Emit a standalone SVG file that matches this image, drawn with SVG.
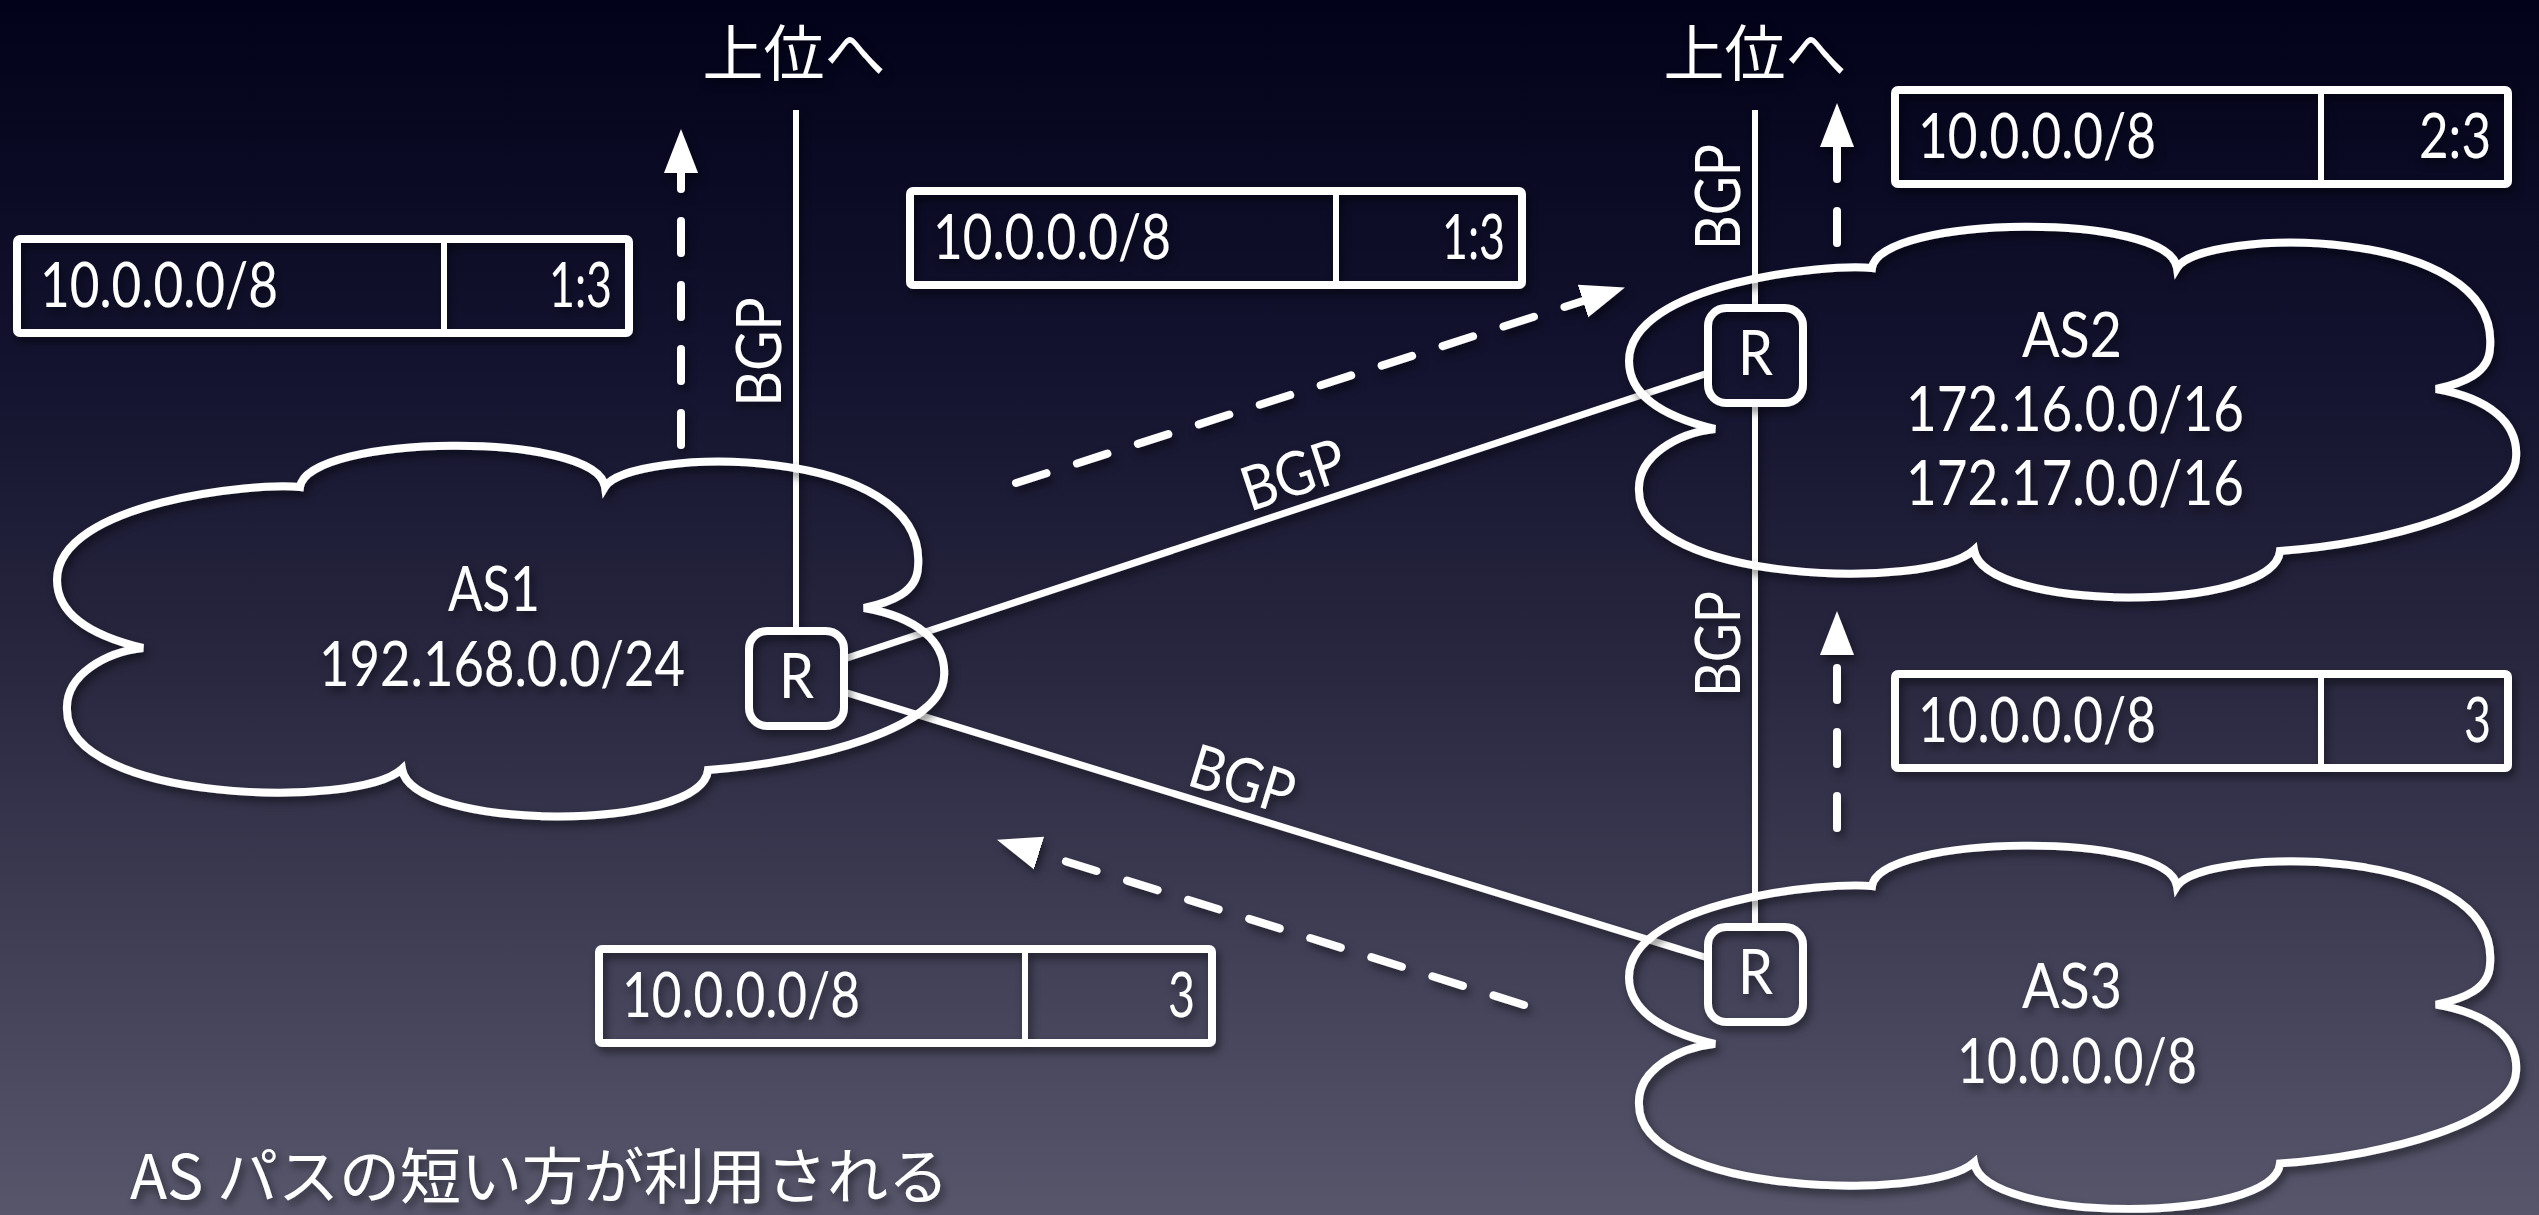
<svg xmlns="http://www.w3.org/2000/svg" width="2539" height="1215" viewBox="0 0 2539 1215">
  <defs>
    <linearGradient id="bg" x1="0" y1="0" x2="0" y2="1">
      <stop offset="0" stop-color="#02021a"/>
      <stop offset="0.3" stop-color="#13132f"/>
      <stop offset="0.55" stop-color="#29273f"/>
      <stop offset="0.8" stop-color="#434158"/>
      <stop offset="1" stop-color="#57566b"/>
    </linearGradient>
    <filter id="sh" filterUnits="userSpaceOnUse" x="0" y="0" width="2539" height="1215">
      <feDropShadow dx="3" dy="5" stdDeviation="4" flood-color="#000" flood-opacity="0.5"/>
    </filter>
    <marker id="ah" markerUnits="userSpaceOnUse" viewBox="0 -20 50 40" markerWidth="50" markerHeight="40" refX="0" refY="0" orient="auto">
      <path d="M0,-17 L44,0 L0,17 Z" fill="#fff"/>
    </marker>
    <path id="cloud" d="M243,45 C250,-8 540,-12 548,45 C572,5 872,0 861,125 C860,150 835,160 807,166 C860,175 890,200 887,235 C884,285 760,320 651,328 C645,390 355,390 345,327 C300,368 10,360 10,268 C8,232 50,210 86,206 C40,195 0,175 0,138 C0,60 200,40 243,45 Z"/>
  </defs>
  <style>
    .cl { fill: none; stroke: #fff; stroke-width: 8; stroke-linejoin: miter; }
    .rt { fill: none; stroke: #fff; stroke-width: 8; }
    .tb { fill: none; stroke: #fff; stroke-width: 8; }
    .dv { stroke: #fff; stroke-width: 6; }
    .vl { stroke: #fff; stroke-width: 6; fill: none; }
    .bl { stroke: #fff; stroke-width: 7; fill: none; }
    .da { stroke: #fff; stroke-width: 8; fill: none; stroke-dasharray: 32 32; stroke-linecap: round; marker-end: url(#ah); }
    text { fill: #fff; font-family: Lato, "Liberation Sans", sans-serif; font-size: 61px; }
    .jp { font-family: "Noto Sans CJK JP", sans-serif; }
    .mid { text-anchor: middle; }
    .end { text-anchor: end; }
  </style>

  <rect x="0" y="0" width="2539" height="1215" fill="url(#bg)"/>

  <g id="connectors" filter="url(#sh)">
    <line class="vl" x1="796" y1="110" x2="796" y2="631"/>
    <line class="vl" x1="1755" y1="110" x2="1755" y2="308"/>
    <line class="vl" x1="1755" y1="403" x2="1755" y2="927"/>
    <line class="bl" x1="844" y1="659" x2="1708" y2="373"/>
    <line class="bl" x1="844" y1="692" x2="1708" y2="958"/>
    <line class="da" x1="681" y1="445" x2="681" y2="173"/>
    <line class="da" x1="1837" y1="243" x2="1837" y2="147"/>
    <line class="da" x1="1837" y1="828" x2="1837" y2="655"/>
    <line class="da" x1="1016" y1="483" x2="1583" y2="301"/>
    <line class="da" x1="1524" y1="1005" x2="1039" y2="853"/>
    <text x="781" y="352" class="mid" transform="rotate(-90 781 352)" textLength="109" lengthAdjust="spacingAndGlyphs">BGP</text>
    <text x="1740" y="197" class="mid" transform="rotate(-90 1740 197)" textLength="106" lengthAdjust="spacingAndGlyphs">BGP</text>
    <text x="1740" y="644" class="mid" transform="rotate(-90 1740 644)" textLength="106" lengthAdjust="spacingAndGlyphs">BGP</text>
    <text x="1300" y="495" class="mid" transform="rotate(-18.3 1300 495)" textLength="106" lengthAdjust="spacingAndGlyphs">BGP</text>
    <text x="1236" y="800" class="mid" transform="rotate(17.1 1236 800)" textLength="106" lengthAdjust="spacingAndGlyphs">BGP</text>
    <text x="794" y="76" class="jp mid" font-size="66">上位へ</text>
    <text x="1755" y="76" class="jp mid" font-size="66">上位へ</text>
  </g>

  <g id="as1" filter="url(#sh)">
    <use href="#cloud" class="cl" transform="translate(57,442)"/>
    <text x="494" y="611" class="mid" textLength="92" lengthAdjust="spacingAndGlyphs">AS1</text>
    <text x="502" y="686" class="mid" textLength="366" lengthAdjust="spacingAndGlyphs">192.168.0.0/24</text>
  </g>
  <g id="as2" filter="url(#sh)">
    <use href="#cloud" class="cl" transform="translate(1629,223)"/>
    <text x="2072" y="357" class="mid" textLength="100" lengthAdjust="spacingAndGlyphs">AS2</text>
    <text x="2075" y="431" class="mid" textLength="338" lengthAdjust="spacingAndGlyphs">172.16.0.0/16</text>
    <text x="2075" y="505" class="mid" textLength="338" lengthAdjust="spacingAndGlyphs">172.17.0.0/16</text>
  </g>
  <g id="as3" filter="url(#sh)">
    <use href="#cloud" class="cl" transform="translate(1629,842) scale(1,0.98)"/>
    <text x="2072" y="1008" class="mid" textLength="100" lengthAdjust="spacingAndGlyphs">AS3</text>
    <text x="2077" y="1083" class="mid" textLength="240" lengthAdjust="spacingAndGlyphs">10.0.0.0/8</text>
  </g>

  <g id="r1" filter="url(#sh)">
    <rect class="rt" x="749" y="631" width="95" height="95" rx="18"/>
    <text x="796.5" y="698" class="mid" font-size="54" textLength="35" lengthAdjust="spacingAndGlyphs">R</text>
  </g>
  <g id="r2" filter="url(#sh)">
    <rect class="rt" x="1708" y="308" width="95" height="95" rx="18"/>
    <text x="1755.5" y="375" class="mid" font-size="54" textLength="35" lengthAdjust="spacingAndGlyphs">R</text>
  </g>
  <g id="r3" filter="url(#sh)">
    <rect class="rt" x="1708" y="927" width="95" height="95" rx="18"/>
    <text x="1755.5" y="994" class="mid" font-size="54" textLength="35" lengthAdjust="spacingAndGlyphs">R</text>
  </g>

  <g id="table-as1" filter="url(#sh)">
    <rect class="tb" x="17" y="239" width="612" height="94" rx="3"/>
    <line class="dv" x1="444" y1="239" x2="444" y2="333"/>
    <text x="40" y="307" textLength="238" lengthAdjust="spacingAndGlyphs">10.0.0.0/8</text>
    <text x="612" y="307" class="end" textLength="63" lengthAdjust="spacingAndGlyphs">1:3</text>
  </g>
  <g id="table-to-as2" filter="url(#sh)">
    <rect class="tb" x="910" y="191" width="612" height="94" rx="3"/>
    <line class="dv" x1="1336" y1="191" x2="1336" y2="285"/>
    <text x="933" y="259" textLength="238" lengthAdjust="spacingAndGlyphs">10.0.0.0/8</text>
    <text x="1505" y="259" class="end" textLength="63" lengthAdjust="spacingAndGlyphs">1:3</text>
  </g>
  <g id="table-as2-up" filter="url(#sh)">
    <rect class="tb" x="1895" y="90" width="613" height="94" rx="3"/>
    <line class="dv" x1="2321" y1="90" x2="2321" y2="184"/>
    <text x="1918" y="158" textLength="238" lengthAdjust="spacingAndGlyphs">10.0.0.0/8</text>
    <text x="2491" y="158" class="end" textLength="72" lengthAdjust="spacingAndGlyphs">2:3</text>
  </g>
  <g id="table-as3-to-as2" filter="url(#sh)">
    <rect class="tb" x="1895" y="674" width="613" height="94" rx="3"/>
    <line class="dv" x1="2321" y1="674" x2="2321" y2="768"/>
    <text x="1918" y="742" textLength="238" lengthAdjust="spacingAndGlyphs">10.0.0.0/8</text>
    <text x="2491" y="742" class="end" textLength="27" lengthAdjust="spacingAndGlyphs">3</text>
  </g>
  <g id="table-as3-to-as1" filter="url(#sh)">
    <rect class="tb" x="599" y="949" width="613" height="94" rx="3"/>
    <line class="dv" x1="1025" y1="949" x2="1025" y2="1043"/>
    <text x="622" y="1017" textLength="238" lengthAdjust="spacingAndGlyphs">10.0.0.0/8</text>
    <text x="1195" y="1017" class="end" textLength="27" lengthAdjust="spacingAndGlyphs">3</text>
  </g>

  <g id="caption" filter="url(#sh)">
    <text x="130" y="1199" class="jp" font-size="64">AS パスの短い方が利用される</text>
  </g>
</svg>
